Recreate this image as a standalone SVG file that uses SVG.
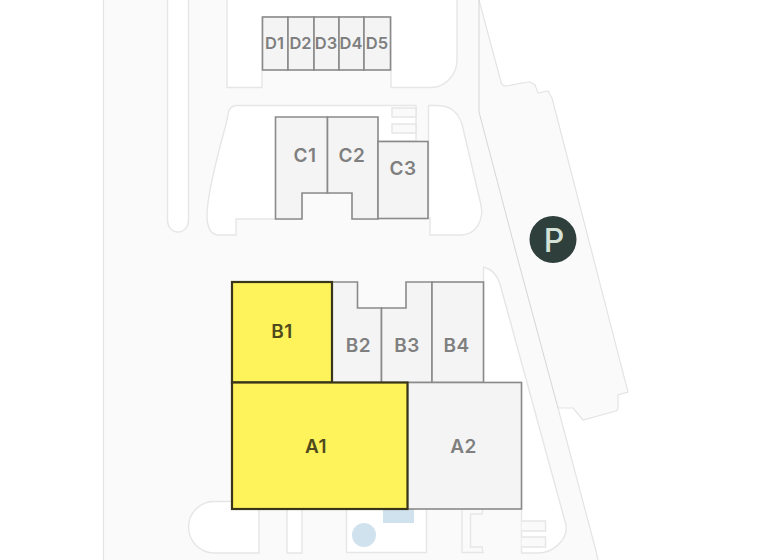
<svg xmlns="http://www.w3.org/2000/svg" width="768" height="560" viewBox="0 0 768 560">
<style>
.site{fill:#fafafa;stroke:#e4e4e4;stroke-width:1.2}
.line{fill:none;stroke:#d6d6d6;stroke-width:1}
.land{fill:#fff;stroke:#e6e6e6;stroke-width:1.4;stroke-linejoin:round}
.step{fill:#fafafa;stroke:#e6e6e6;stroke-width:1.4}
.unit{fill:#f4f4f4;stroke:#8a8a8a;stroke-width:1.6}
.sel{fill:#fff35c;stroke:#38351a;stroke-width:2.2}
.water{fill:#cfe2ee}
text{font-family:Inter,"Liberation Sans",sans-serif;font-weight:600;text-anchor:middle}
.lb{font-size:19px;letter-spacing:.5px;fill:#7f7f7f}
.ls{font-size:16.5px;fill:#7f7f7f}
.ly{font-size:19px;letter-spacing:.5px;fill:#4f4a1c}
</style>
<rect width="768" height="560" fill="#fff"/>
<g id="site">
<path class="site" d="M103.500 -3V564H599L595 547L558 408H573L578 414L583 420L616 411Q619 409 618 405V395L628 392L552 98L548 91L538 93L535 85L530 82L528 82L506 86Q502 86 501 82L479 0L478 -3Z"/>
<path class="line" d="M479 0V112L518 260L558 408"/>
<path class="land" d="M167.500 -3V220C167.500 227 172 232 178 232C184 232 188.500 227 188.500 220V-3Z"/>
<path class="land" d="M227 -3V87.500H262V17H391V87.500H431C446 87.500 457 74 457 60V-3Z"/>
<path class="land" d="M237 105.500C232 105.500 229 108 228 114C227 122 225 128 222 139C217 158 207 195 207 215C207 228 211 235 219 235H236V219H302V193H352V219H378V141H416V105.500Z"/>
<path class="land" d="M428.500 105.500H436C449 105.500 457 110 462 124L481 205C484 220 476 235 461 235H430V218H428.500Z"/>
<path class="land" d="M483.500 267C491 269 497 274 500 284L566 525C568 540 553 553 538 553H521.500V382.500H483.500Z"/>
<path class="land" d="M210 501.500H259V553H214C200 553 188.500 541 188.500 527C188.500 513 200 501.500 214 501.500Z"/>
<rect class="land" x="287" y="505" width="15" height="48"/>
<rect class="land" x="346.500" y="505" width="80" height="47.500"/>
<path class="step" d="M392 108H416V117H392ZM392 124H416V133H392Z"/>
<path class="step" d="M521.500 521H545.500V531H521.500M521.500 537H545.500V547H521.500"/>
<path d="M483 509L482 514H470.500V547H482L483 552.500H462V509" fill="#fafafa" stroke="#e6e6e6" stroke-width="1.400"/>
<circle class="water" cx="364" cy="535" r="12"/>
<rect class="water" x="383" y="505" width="31" height="18"/>
</g>
<g id="D1"><rect class="unit" x="262.500" y="17" width="25.500" height="53"/><text class="ls" x="274.500" y="49">D1</text></g>
<g id="D2"><rect class="unit" x="288" y="17" width="26" height="53"/><text class="ls" x="300.500" y="49">D2</text></g>
<g id="D3"><rect class="unit" x="314" y="17" width="25" height="53"/><text class="ls" x="326" y="49">D3</text></g>
<g id="D4"><rect class="unit" x="339" y="17" width="25" height="53"/><text class="ls" x="351" y="49">D4</text></g>
<g id="D5"><rect class="unit" x="364" y="17" width="26.500" height="53"/><text class="ls" x="377" y="49">D5</text></g>
<g id="C1"><path class="unit" d="M275.500 117H327.500V193H302V219H275.500Z"/><text class="lb" x="305" y="162">C1</text></g>
<g id="C2"><path class="unit" d="M327.500 117H378V219H352V193H327.500Z"/><text class="lb" x="352" y="162">C2</text></g>
<g id="C3"><rect class="unit" x="378" y="141.500" width="50" height="77"/><text class="lb" x="403" y="174.500">C3</text></g>
<g id="B2"><path class="unit" d="M332 282H357.500V308H381.500V382.500H332Z"/><text class="lb" x="358.500" y="352">B2</text></g>
<g id="B3"><path class="unit" d="M381.500 308H406V282H432V382.500H381.500Z"/><text class="lb" x="407" y="352">B3</text></g>
<g id="B4"><rect class="unit" x="432" y="282" width="51.500" height="100.500"/><text class="lb" x="456.500" y="352">B4</text></g>
<g id="A2"><rect class="unit" x="407.500" y="382.500" width="114" height="126.500"/><text class="lb" x="463.500" y="453">A2</text></g>
<g id="B1"><rect class="sel" x="232" y="282" width="100" height="100.500"/><text class="ly" x="282" y="338">B1</text></g>
<g id="A1"><rect class="sel" x="232" y="382.500" width="175.500" height="126.500"/><text class="ly" x="316" y="453">A1</text></g>
<g id="parking"><circle cx="553" cy="239.500" r="23.500" fill="#2f3f3c"/><text x="554" y="252" font-size="32" style="font-weight:500" fill="#d5e2d8">P</text></g>
</svg>
